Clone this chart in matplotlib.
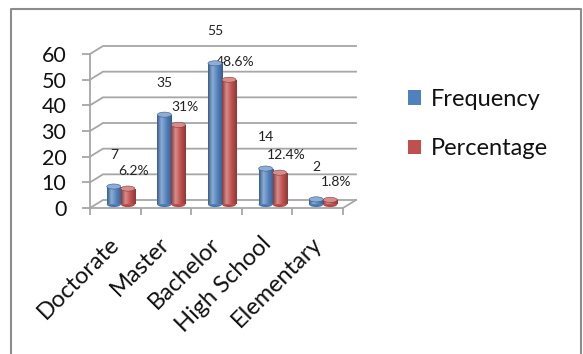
import numpy as np
import matplotlib.pyplot as plt
import matplotlib.transforms as mtransforms
from matplotlib.colors import LinearSegmentedColormap
from matplotlib.patches import Ellipse
from matplotlib.lines import Line2D

plt.rcParams['font.family'] = ['Lato', 'DejaVu Sans']

# education level counts and shares
categories = ['Doctorate', 'Master', 'Bachelor', 'High School', 'Elementary']
frequency = [7, 35, 55, 14, 2]
percentage = [6.2, 31, 48.6, 12.4, 1.8]
pct_labels = ['6.2%', '31%', '48.6%', '12.4%', '1.8%']
yticks = [0, 10, 20, 30, 40, 50, 60]

BLUE = '#4F81BD'
RED = '#C0504D'
GRID = '#A6A6A6'

W, H = 583, 354
fig = plt.figure(figsize=(W / 100, H / 100), dpi=100)
ax = fig.add_axes([90 / W, 146 / H, 253 / W, 154 / H])
ax.set_xlim(-0.5, 4.5)
ax.set_ylim(0, 60)

# depth of the fake 3d box, in data units
dx, dy = 13 / 50.6, 8 / 2.567
# bars stand half way back in the box
mid = ax.transData + mtransforms.ScaledTranslation(0.055, 0.035, fig.dpi_scale_trans)

# back wall gridlines with their diagonal to the front axis
for v in yticks:
    ax.plot([-0.5, -0.5 + dx, 4.5 + dx], [v, v + dy, v + dy],
            color=GRID, lw=1.3, clip_on=False, zorder=1)
# right edge of the floor
ax.plot([4.5, 4.5 + dx], [0, dy], color=GRID, lw=1.3, clip_on=False, zorder=1)


def shade(color):
    c = np.array(plt.matplotlib.colors.to_rgb(color))
    dark = c * 0.72
    light = np.clip(c + (1 - c) * 0.35, 0, 1)
    return LinearSegmentedColormap.from_list(
        'cyl', [(0, dark), (0.3, light), (0.65, c), (1, dark)])


bw = 0.277
x = np.arange(len(categories))
groups = []
for vals, off, col in [(frequency, -bw / 2, BLUE), (percentage, bw / 2, RED)]:
    bars = ax.bar(x + off, vals, width=bw, color=col, transform=mid,
                  zorder=3, linewidth=0)
    cmap = shade(col)
    grad = np.linspace(0, 1, 64).reshape(1, -1)
    for b in bars:
        bx, bh = b.get_x(), b.get_height()
        # rounded base and top of the column
        ax.add_patch(Ellipse((bx + bw / 2, 0), bw, 2.0, transform=mid,
                             facecolor=cmap(0.75), edgecolor='none', zorder=2.9,
                             clip_on=False))
        im = ax.imshow(grad, cmap=cmap, extent=[bx, bx + bw, 0, bh],
                       aspect='auto', transform=mid, zorder=3.1,
                       interpolation='bilinear')
        im.set_clip_path(b)
        ax.add_patch(Ellipse((bx + bw / 2, bh), bw, 2.0, transform=mid,
                             facecolor=cmap(0.3), edgecolor=cmap(0.0),
                             lw=0.4, zorder=3.2, clip_on=False))
    groups.append(bars)

ax.set_xlim(-0.5, 4.5)
ax.set_ylim(0, 60)

# value labels
for i in range(len(categories)):
    ax.annotate(str(frequency[i]), xy=(x[i] - bw / 2, frequency[i]), xycoords=mid,
                xytext=(0, 23), textcoords='offset points',
                ha='center', va='center', fontsize=10, color='#222222')
    ax.annotate(pct_labels[i], xy=(x[i] + bw / 2, percentage[i]), xycoords=mid,
                xytext=(4.5, 13), textcoords='offset points',
                ha='center', va='center', fontsize=10, color='#222222')

for s in ['top', 'right']:
    ax.spines[s].set_visible(False)
for s in ['left', 'bottom']:
    ax.spines[s].set_color(GRID)
    ax.spines[s].set_linewidth(1.3)
ax.patch.set_visible(False)

ax.set_yticks(yticks)
ax.tick_params(axis='y', length=6, width=1.3, color=GRID, pad=11,
               labelsize=15.5, labelcolor='#111111')
ax.set_xticks(x, categories, rotation=45, ha='right', rotation_mode='anchor')
ax.set_xticks(np.arange(-0.5, 5, 1), minor=True)
ax.tick_params(axis='x', which='major', length=0, pad=18,
               labelsize=17, labelcolor='#111111')
ax.tick_params(axis='x', which='minor', length=5, width=1.3, color=GRID)
shift = mtransforms.ScaledTranslation(-0.07, 0, fig.dpi_scale_trans)
for lbl in ax.get_xticklabels():
    lbl.set_transform(lbl.get_transform() + shift)

leg = ax.legend([groups[0], groups[1]], ['Frequency', 'Percentage'],
                loc='center left', bbox_to_anchor=(408 / W, 1 - 124 / H),
                bbox_transform=fig.transFigure, frameon=False, fontsize=17,
                handlelength=0.56, handleheight=0.56, handletextpad=0.4,
                labelspacing=1.2, borderpad=0, borderaxespad=0)
for t in leg.get_texts():
    t.set_color('#111111')

# chart border (open at the bottom)
fig.add_artist(Line2D([10.5 / W, 10.5 / W, 581 / W, 581 / W],
                      [0, 1 - 8.5 / H, 1 - 8.5 / H, 0],
                      transform=fig.transFigure, color='#8C8C8C', lw=1.5))

fig.savefig('out.png', dpi=100)
